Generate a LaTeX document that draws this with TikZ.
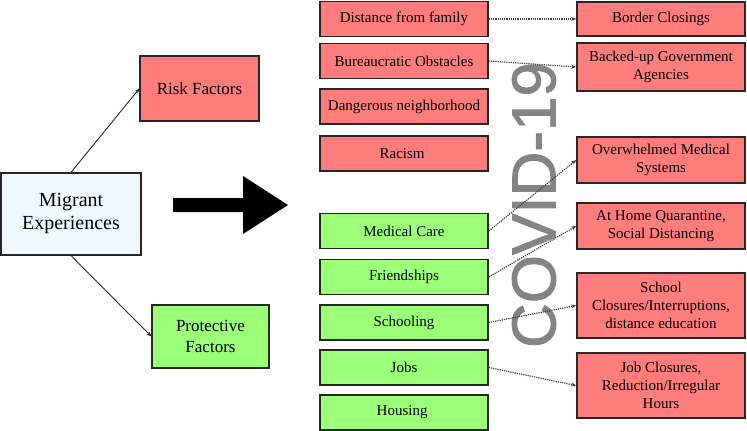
\documentclass[tikz,border=0pt]{standalone}
\usepackage{fontspec}
\setmainfont{Liberation Serif}
\newfontfamily\covidfont[FakeBold=1.5]{Liberation Sans}
\usetikzlibrary{arrows.meta}

\definecolor{risque}{RGB}{255,125,125}
\definecolor{protect}{RGB}{155,255,120}
\definecolor{migrant}{RGB}{240,248,255}
\definecolor{covidgris}{RGB}{132,132,132}

\begin{document}
\begin{tikzpicture}[x=1pt,y=-1pt,
    boite/.style={draw=black!85,line width=1.6pt,minimum width=168pt,minimum height=35pt,
      inner sep=1pt,align=center,font=\fontsize{15}{18}\selectfont},
    facteur/.style={draw=black!85,line width=1.2pt,inner sep=1pt,align=center,
      font=\fontsize{17}{21}\selectfont},
    lien/.style={draw=black!85,line width=0.9pt,-{Stealth[length=5pt,width=4pt]}},
    effet/.style={draw=black!75,line width=1.2pt,densely dotted,-{Stealth[length=5pt,width=4pt]}}]

    \useasboundingbox (0,0) rectangle (747,431);

    % Colonne de gauche
    \node[facteur,fill=migrant,minimum width=140pt,minimum height=82pt,
      font=\fontsize{20}{23}\selectfont] (migrant) at (71,214) {Migrant\\Experiences};
    \node[facteur,fill=risque,minimum width=119pt,minimum height=65pt] (risk) at (199.5,88.5) {Risk Factors};
    \node[facteur,fill=protect,minimum width=117pt,minimum height=63pt] (protective) at (210.5,336.5) {Protective\\Factors};

    \draw[lien] (migrant.north) -- (risk.west);
    \draw[lien] (migrant.south) -- (protective.west);

    % Grande fleche
    \fill[black] (173,198) -- (243,198) -- (243,176) -- (288,205)
      -- (243,234) -- (243,212) -- (173,212) -- cycle;

    % Texte COVID-19 (sous les liens)
    \node[covidgris,rotate=90,inner sep=0pt,font=\covidfont\fontsize{62}{62}\selectfont] (covid) at (534,205) {COVID-19};

    % Facteurs de risque
    \foreach \y/\nom/\lbl in {
        19/distance/{Distance from family},
        61/bureau/{Bureaucratic Obstacles},
        106.5/danger/{Dangerous neighborhood},
        153.5/racism/{Racism}
    }{
      \node[boite,fill=risque] (\nom) at (404,\y) {\lbl};
    }

    % Facteurs de protection
    \foreach \y/\nom/\lbl in {
        231/medical/{Medical Care},
        277/friends/{Friendships},
        322.5/school/{Schooling},
        367.5/jobs/{Jobs},
        412.5/housing/{Housing}
    }{
      \node[boite,fill=protect] (\nom) at (404,\y) {\lbl};
    }

    % Effets de la COVID-19
    \node[boite,fill=risque,minimum height=34pt] (border) at (661,19) {Border Closings};
    \node[boite,fill=risque,minimum height=48pt] (agencies) at (661,67) {Backed-up Government\\Agencies};
    \node[boite,fill=risque,minimum height=46pt] (overwhelmed) at (661,160) {Overwhelmed Medical\\Systems};
    \node[boite,fill=risque,minimum height=46pt] (quarantine) at (661,226) {At Home Quarantine,\\Social Distancing};
    \node[boite,fill=risque,minimum height=65pt] (closures) at (661,305.5) {School\\Closures/Interruptions,\\distance education};
    \node[boite,fill=risque,minimum height=65pt] (jobcuts) at (661,385.5) {Job Closures,\\Reduction/Irregular\\Hours};

    % Liens pointilles
    \draw[effet] (distance.east) -- (border.west);
    \draw[effet] (bureau.east) -- (agencies.west);
    \draw[effet] (medical.east) -- (overwhelmed.west);
    \draw[effet] (friends.east) -- (quarantine.west);
    \draw[effet] (school.east) -- (closures.west);
    \draw[effet] (jobs.east) -- (jobcuts.west);

  \end{tikzpicture}
\end{document}
